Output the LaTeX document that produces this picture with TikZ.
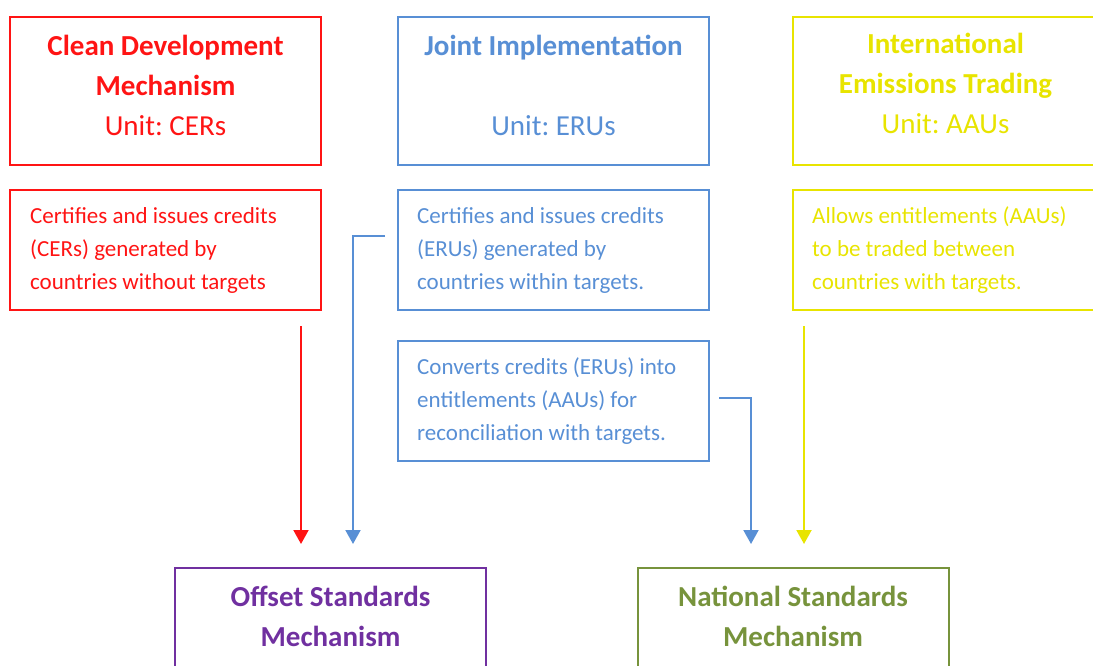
\documentclass[tikz,border=0pt]{standalone}
\usepackage{fontspec}
\setmainfont{Carlito}
\usetikzlibrary{arrows.meta}
\frenchspacing
\definecolor{cred}{RGB}{255,20,20}
\definecolor{cblue}{RGB}{88,143,213}
\definecolor{cyel}{RGB}{232,228,0}
\definecolor{cpur}{RGB}{112,48,160}
\definecolor{cgrn}{RGB}{119,147,60}
\tikzset{
  box/.style={draw, line width=2pt, minimum width=311pt, inner sep=0pt},
  headbox/.style={box, minimum height=148pt},
  descbox/.style={box, minimum height=120pt},
  title/.style={font=\fontsize{29}{40}\selectfont, align=center, inner sep=0pt},
  desc/.style={font=\fontsize{23}{33}\selectfont, align=left, anchor=west, inner sep=0pt},
  arr/.style={line width=2pt, -{Triangle[width=15pt,length=14pt]}},
}
\begin{document}
\begin{tikzpicture}[x=1pt,y=-1pt]
\useasboundingbox (0,0) rectangle (1093,666);
\clip (0,0) rectangle (1093,666);
% header boxes
\node[headbox, cred] (cdm) at (165.5,91) {};
\node[title, cred] (cdmT) at (165.5,85) {\textbf{Clean Development}\\\textbf{Mechanism}\\Unit: CERs};
\node[headbox, cblue] (ji) at (553.5,91) {};
\node[title, cblue] (jiT) at (553.5,85) {\textbf{Joint Implementation}\\[40pt]Unit: ERUs};
\node[headbox, cyel] (iet) at (948.5,91) {};
\node[title, cyel] (ietT) at (945.5,83) {\textbf{International}\\\textbf{Emissions Trading}\\Unit: AAUs};
% description boxes
\node[descbox, cred] (cdmD) at (165.5,250) {};
\node[desc, cred] (cdmDT) at (30,250) {Certifies and issues credits\\(CERs) generated by\\countries without targets};
\node[descbox, cblue] (jiD) at (553.5,250) {};
\node[desc, cblue] (jiDT) at (417,250) {Certifies and issues credits\\(ERUs) generated by\\countries within targets.};
\node[descbox, cyel] (ietD) at (948.5,250) {};
\node[desc, cyel] (ietDT) at (812,250) {Allows entitlements (AAUs)\\to be traded between\\countries with targets.};
\node[descbox, cblue] (conv) at (553.5,400.5) {};
\node[desc, cblue] (convT) at (417,401) {Converts credits (ERUs) into\\entitlements (AAUs) for\\reconciliation with targets.};
% bottom boxes
\node[box, cpur, minimum height=140pt] (off) at (330.5,638) {};
\node[title, cpur] (offT) at (330.5,616) {\textbf{Offset Standards}\\\textbf{Mechanism}};
\node[box, cgrn, minimum height=140pt] (nat) at (793,638) {};
\node[title, cgrn] (natT) at (793,616) {\textbf{National Standards}\\\textbf{Mechanism}};
% arrows
\draw[arr, cred, shorten <=15pt, shorten >=23pt] ([xshift=135.5pt]cdmD.south) -- ([xshift=135.5pt]cdmD.south |- off.north);
\draw[arr, cblue, shorten >=23pt] ([xshift=-12pt,yshift=14pt]jiD.west) -| ([xshift=22.5pt]off.north);
\draw[arr, cblue, shorten >=23pt] ([xshift=9pt,yshift=2.5pt]conv.east) -| ([xshift=-42pt]nat.north);
\draw[arr, cyel, shorten <=15pt, shorten >=23pt] ([xshift=12pt]ietD.south west) -- ([xshift=12pt]ietD.south west |- nat.north);
\end{tikzpicture}
\end{document}
